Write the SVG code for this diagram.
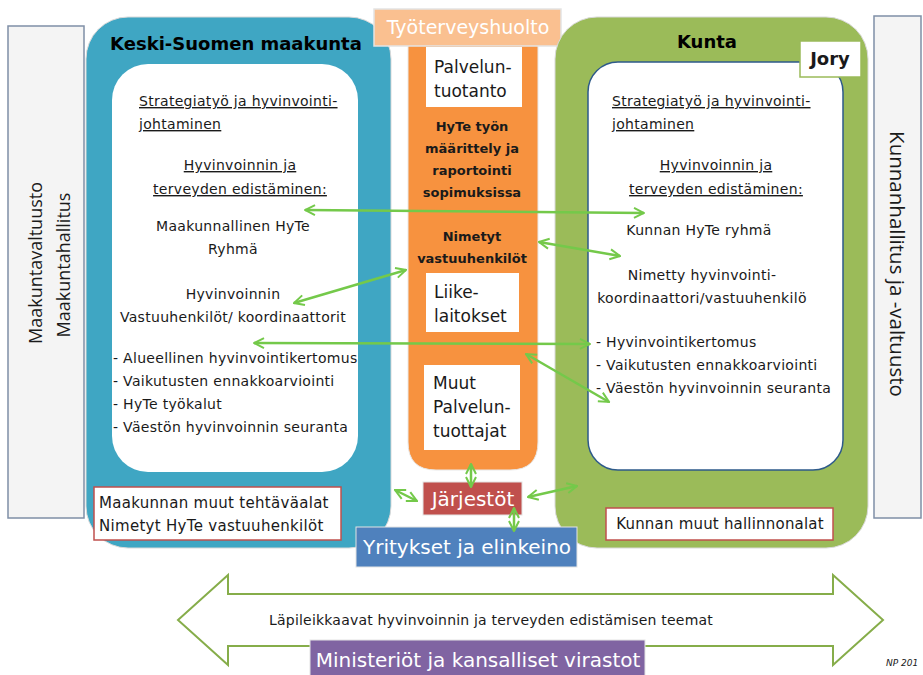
<svg xmlns="http://www.w3.org/2000/svg" width="923" height="675" viewBox="0 0 923 675">
<defs>
<marker id="ah" viewBox="0 0 10 10" refX="9" refY="5" markerWidth="5" markerHeight="5" orient="auto-start-reverse" markerUnits="strokeWidth">
<path d="M1,1 L9,5 L1,9" fill="none" stroke="#74c94a" stroke-width="1.6"/>
</marker>
<style>
text{font-family:"DejaVu Sans","Liberation Sans",sans-serif;fill:#1a1a1a}
.t{font-size:14px;letter-spacing:0.3px}
.v{font-family:"Open Sans","Liberation Sans",sans-serif}
.c{text-anchor:middle}
.u{text-decoration:underline}
.b{font-weight:bold}
.wt{fill:#fff}
.conn line{stroke:#74c94a;stroke-width:2.5;marker-start:url(#ah);marker-end:url(#ah)}
</style>
</defs>
<rect width="923" height="675" fill="#fff"/>

<g id="maakuntavaltuusto">
<rect x="8" y="26" width="76" height="492" fill="#f4f4f4" stroke="#7f8fa6" stroke-width="1.5"/>
<text class="c v" font-size="18" transform="translate(42,263) rotate(-90)">Maakuntavaltuusto</text>
<text class="c v" font-size="18" transform="translate(70,265) rotate(-90)">Maakuntahallitus</text>
</g>

<g id="kunnanhallitus">
<rect x="874" y="16" width="47" height="502" fill="#f4f4f4" stroke="#7f8fa6" stroke-width="1.5"/>
<text class="c v" font-size="20.5" transform="translate(890,264) rotate(90)">Kunnanhallitus ja -valtuusto</text>
</g>

<g id="maakunta">
<rect x="86" y="17" width="305" height="531" rx="42" fill="#3fa6c3" stroke="#d9d9d9" stroke-width="1"/>
<text x="236" y="50" class="c b" font-size="18" style="fill:#000">Keski-Suomen maakunta</text>
<rect x="112" y="64" width="246" height="408" rx="36" fill="#fff"/>
<text x="139" y="106" class="t u">Strategiatyö ja hyvinvointi-</text>
<text x="139" y="129" class="t u">johtaminen</text>
<text x="240" y="170" class="t c u">Hyvinvoinnin ja</text>
<text x="240" y="194" class="t c u">terveyden edistäminen:</text>
<text x="233" y="231" class="t c">Maakunnallinen HyTe</text>
<text x="233" y="254" class="t c">Ryhmä</text>
<text x="233" y="299" class="t c">Hyvinvoinnin</text>
<text x="233" y="322" class="t c">Vastuuhenkilöt/ koordinaattorit</text>
<text x="113" y="363" class="t">- Alueellinen hyvinvointikertomus</text>
<text x="113" y="386" class="t">- Vaikutusten ennakkoarviointi</text>
<text x="113" y="409" class="t">- HyTe työkalut</text>
<text x="113" y="432" class="t">- Väestön hyvinvoinnin seuranta</text>
</g>

<g id="maakunnan-muut">
<rect x="94" y="487" width="247" height="53" fill="#fff" stroke="#c0504d" stroke-width="1.5"/>
<text x="99" y="508" font-size="15" letter-spacing="0.3">Maakunnan muut tehtäväalat</text>
<text x="99" y="531" font-size="15" letter-spacing="0.3">Nimetyt HyTe vastuuhenkilöt</text>
</g>

<g id="tyoterveyshuolto">
<path d="M408,40 H538 V442 Q538,470 510,470 H436 Q408,470 408,442 Z" fill="#f7923f" stroke="#e8e8e8" stroke-width="1"/>
<rect x="374" y="9" width="187" height="37" fill="#fac090" stroke="#e4e4e4" stroke-width="1.5"/>
<text x="468" y="34" class="c wt" font-size="19">Työterveyshuolto</text>
<rect x="426" y="47" width="96" height="60" fill="#fff"/>
<text x="434" y="73" font-size="17">Palvelun-</text>
<text x="434" y="97" font-size="17">tuotanto</text>
<text x="472" y="131" class="c b" font-size="13">HyTe työn</text>
<text x="472" y="153" class="c b" font-size="13">määrittely ja</text>
<text x="472" y="175" class="c b" font-size="13">raportointi</text>
<text x="472" y="197" class="c b" font-size="13">sopimuksissa</text>
<text x="472" y="241" class="c b" font-size="13">Nimetyt</text>
<text x="472" y="263" class="c b" font-size="13">vastuuhenkilöt</text>
<rect x="426" y="273" width="93" height="59" fill="#fff"/>
<text x="434" y="298" font-size="17">Liike-</text>
<text x="434" y="322" font-size="17">laitokset</text>
<rect x="424" y="365" width="96" height="85" fill="#fff"/>
<text x="433" y="389" font-size="17">Muut</text>
<text x="433" y="413" font-size="17">Palvelun-</text>
<text x="433" y="437" font-size="17">tuottajat</text>
</g>

<g id="kunta">
<rect x="555" y="17" width="313" height="531" rx="42" fill="#9bbb59" stroke="#d9d9d9" stroke-width="1"/>
<text x="707" y="48" class="c b" font-size="18" style="fill:#000">Kunta</text>
<rect x="588" y="62" width="255" height="408" rx="30" fill="#fff" stroke="#2e5a8a" stroke-width="1.5"/>
<text x="612" y="106" class="t u">Strategiatyö ja hyvinvointi-</text>
<text x="612" y="129" class="t u">johtaminen</text>
<text x="716" y="170" class="t c u">Hyvinvoinnin ja</text>
<text x="716" y="194" class="t c u">terveyden edistäminen:</text>
<text x="699" y="235" class="t c">Kunnan HyTe ryhmä</text>
<text x="702" y="280" class="t c">Nimetty hyvinvointi-</text>
<text x="702" y="303" class="t c">koordinaattori/vastuuhenkilö</text>
<text x="596" y="347" class="t">- Hyvinvointikertomus</text>
<text x="596" y="370" class="t">- Vaikutusten ennakkoarviointi</text>
<text x="596" y="393" class="t">- Väestön hyvinvoinnin seuranta</text>
</g>

<g id="jory">
<rect x="800" y="41" width="61" height="36" fill="#fff" stroke="#9bbb59" stroke-width="1.5"/>
<text x="830" y="65" class="c b" font-size="18">Jory</text>
</g>

<g id="kunnan-muut">
<rect x="606" y="508" width="227" height="32" fill="#fff" stroke="#c0504d" stroke-width="1.5"/>
<text x="720" y="529" class="c" font-size="15" letter-spacing="0.2">Kunnan muut hallinnonalat</text>
</g>

<g id="jarjestot">
<rect x="423" y="482" width="99" height="33" fill="#c0504d" stroke="#e4e4e4" stroke-width="1"/>
<text x="473" y="506" class="c wt" font-size="20">Järjestöt</text>
</g>

<g id="yritykset">
<rect x="356" y="527" width="221" height="40" fill="#4f81bd" stroke="#e4e4e4" stroke-width="1"/>
<text x="467" y="554" class="c wt" font-size="20">Yritykset ja elinkeino</text>
</g>

<g id="teemat">
<path d="M178,620 L228,575 V594 H833 V575 L883,620 L833,665 V646 H228 V665 Z" fill="#fff" stroke="#86ad4a" stroke-width="2"/>
<text x="491" y="625" class="c" font-size="14" letter-spacing="0.2">Läpileikkaavat hyvinvoinnin ja terveyden edistämisen teemat</text>
</g>

<g id="ministeriot">
<rect x="310" y="640" width="335" height="37" fill="#8064a2" stroke="#e4e4e4" stroke-width="1"/>
<text x="478" y="667" class="c wt" font-size="20">Ministeriöt ja kansalliset virastot</text>
</g>

<g id="np">
<text x="886" y="666" font-size="9" font-style="italic">NP 201</text>
</g>

<g class="conn" id="connectors">
<line x1="305" y1="210" x2="644" y2="213"/>
<line x1="294" y1="303" x2="406" y2="270"/>
<line x1="539" y1="242" x2="620" y2="256"/>
<line x1="254" y1="343" x2="590" y2="344"/>
<line x1="526" y1="354" x2="609" y2="402"/>
<line x1="471" y1="464" x2="471" y2="487"/>
<line x1="395" y1="490" x2="417" y2="501"/>
<line x1="528" y1="497" x2="577" y2="486"/>
<line x1="514" y1="508" x2="514" y2="531"/>
</g>
</svg>
